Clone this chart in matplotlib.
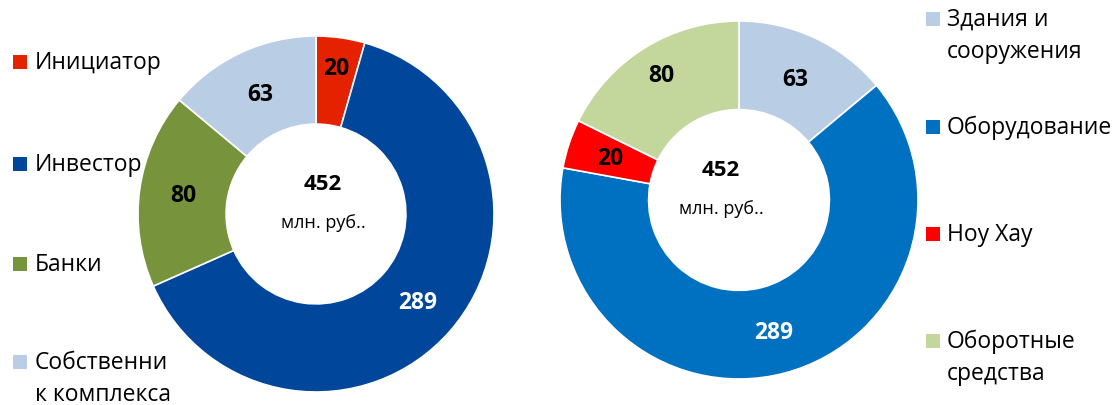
import matplotlib
matplotlib.use("Agg")
import matplotlib.pyplot as plt
import numpy as np
from matplotlib.patches import Rectangle

plt.rcParams['font.family'] = ['Open Sans', 'DejaVu Sans']

# -------------------------------
# Daten
# -------------------------------
left_labels = ["Инициатор", "Инвестор", "Банки", "Собственни\nк комплекса"]
left_values = [20, 289, 80, 63]
left_colors = ["#E52200", "#00479B", "#77933C", "#B9CDE5"]

right_labels = ["Здания и\nсооружения", "Оборудование", "Ноу Хау", "Оборотные\nсредства"]
right_values = [63, 289, 20, 80]
right_colors = ["#B9CDE5", "#0070C0", "#FF0000", "#C3D69B"]

unit_text = "млн. руб.."

W, H = 1119, 406
fig = plt.figure(figsize=(W / 100, H / 100), dpi=100)


def px_axes(cx, cy, r):
    # Achse so setzen, dass der Radius 1 genau r Pixel entspricht
    return fig.add_axes([(cx - r) / W, (H - cy - r) / H, 2 * r / W, 2 * r / H])


def draw_donut(ax, values, colors, label_r, label_colors, center_dx):
    ax.pie(values, colors=colors, startangle=90, counterclock=False, radius=1,
           wedgeprops=dict(width=0.495, edgecolor='white', linewidth=1.2))
    total = sum(values)
    cum = np.cumsum([0] + values[:-1])
    for v, c, r, col in zip(values, cum, label_r, label_colors):
        theta = np.deg2rad(90 - 360 * (c + v / 2) / total)
        ax.text(r * np.cos(theta), r * np.sin(theta), str(v), ha='center', va='center',
                fontsize=16.5, fontweight='bold', color=col)
    ax.text(center_dx, 0.17, str(total), ha='center', va='center',
            fontsize=16, fontweight='bold', color='black')
    ax.text(center_dx, -0.045, unit_text, ha='center', va='center',
            fontsize=13, color='black')
    ax.set_xlim(-1, 1)
    ax.set_ylim(-1, 1)
    ax.set_aspect('equal')
    ax.axis('off')


ax1 = px_axes(316, 215, 178)
draw_donut(ax1, left_values, left_colors, [0.83, 0.755, 0.755, 0.745],
           ['black', 'white', 'black', 'black'], 0.04)

ax2 = px_axes(739, 201, 179)
draw_donut(ax2, right_values, right_colors, [0.745, 0.76, 0.755, 0.82],
           ['black', 'white', 'black', 'black'], -0.10)


# -------------------------------
# Legenden (Excel-Stil, vertikal verteilt)
# -------------------------------
def draw_legend(labels, colors, x_sq, x_txt, ys, line_gap=32, sq=14):
    for lab, col, y in zip(labels, colors, ys):
        fig.patches.append(Rectangle(((x_sq) / W, (H - y - sq / 2) / H), sq / W, sq / H,
                                     transform=fig.transFigure, facecolor=col,
                                     edgecolor='none'))
        for i, line in enumerate(lab.split("\n")):
            fig.text(x_txt / W, (H - y - i * line_gap) / H, line, ha='left', va='center',
                     fontsize=16.5, color='black')


draw_legend(left_labels, left_colors, 13, 35, [63, 165, 265, 363])
draw_legend(right_labels, right_colors, 926, 947, [20, 128, 235, 342])

fig.savefig("out.png", dpi=100)
